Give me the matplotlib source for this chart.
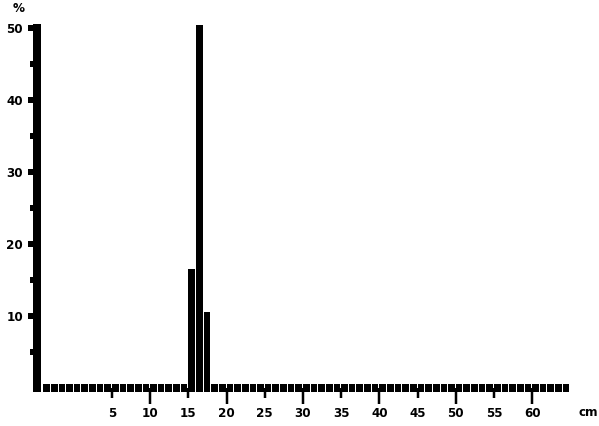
import matplotlib
matplotlib.use("Agg")
import matplotlib.pyplot as plt
import numpy as np

# length classes (cm) with a visible share, and their percentages
length_cm = [15, 16, 17]
percent = [16.5, 50.4, 10.6]

# every 1-cm class along the axis gets a small block (dashed baseline)
all_classes = list(range(-4, 65))

x_major = [10, 20, 30, 40, 50, 60]
x_minor = [5, 15, 25, 35, 45, 55]
y_major = [10, 20, 30, 40, 50]
y_minor = [5, 15, 25, 35, 45]

W, H = 599, 426
DPI = 100
PX = 72 / DPI  # points per pixel

tick_font = dict(family=["DejaVu Sans"], weight="bold", size=9.5, stretch="condensed")

fig = plt.figure(figsize=(W / DPI, H / DPI), dpi=DPI)
ax = fig.add_axes([37 / W, (H - 388) / H, (590 - 37) / W, (388 - 24) / H])
ax.set_xlim(-4.82, 67.57)
ax.set_ylim(0, 50.56)

# baseline blocks
ax.bar(all_classes, [1.1] * len(all_classes), bottom=-0.55, width=0.87,
       align="edge", color="black", clip_on=False, zorder=3)
# data bars
ax.bar(length_cm, percent, width=0.88, align="edge", color="black",
       clip_on=False, zorder=3)

for side in ("top", "right", "bottom"):
    ax.spines[side].set_visible(False)
ax.spines["left"].set_linewidth(8 * PX)
ax.spines["left"].set_capstyle("butt")
ax.spines["left"].set_bounds(-0.55, 50.56)

ax.set_yticks(y_major, [str(v) for v in y_major])
ax.set_yticks(y_minor, minor=True)
ax.tick_params(axis="y", which="major", direction="out", length=9 * PX,
               width=6 * PX, pad=5 * PX)
ax.tick_params(axis="y", which="minor", direction="out", length=7 * PX,
               width=6 * PX)

ax.set_xticks(x_major, [str(v) for v in x_major])
ax.set_xticks(x_minor, [str(v) for v in x_minor], minor=True)
ax.tick_params(axis="x", which="major", direction="out", length=16 * PX,
               width=2.5 * PX, pad=3 * PX)
ax.tick_params(axis="x", which="minor", direction="out", length=10 * PX,
               width=2.5 * PX, pad=9 * PX)

for lab in ax.get_xticklabels(which="both") + ax.get_yticklabels():
    lab.set_fontproperties(matplotlib.font_manager.FontProperties(**tick_font))

fig.text(19 / W, 1 - 9 / H, "%", ha="center", va="center", **tick_font)
fig.text(588 / W, 1 - 413 / H, "cm", ha="center", va="center", **tick_font)

fig.savefig("out.png", dpi=DPI, facecolor="white")
